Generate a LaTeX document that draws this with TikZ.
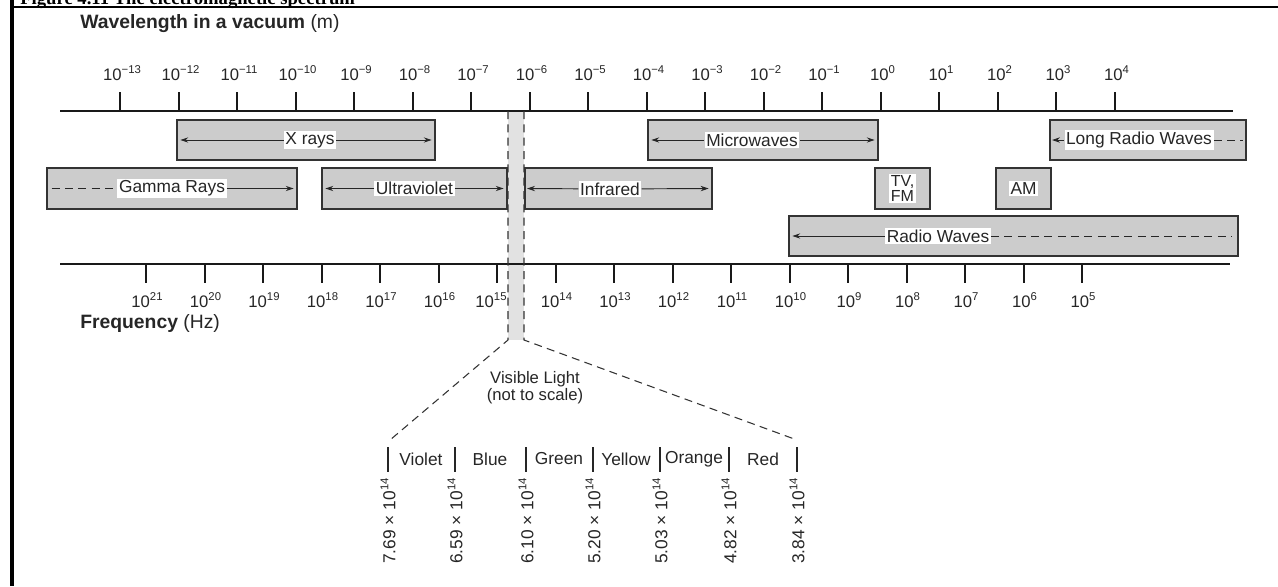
\documentclass[tikz,border=0pt]{standalone}
\usepackage{fontspec}
\setmainfont{Liberation Sans}
\newfontfamily\capfont{Liberation Serif}
\usetikzlibrary{fit,arrows.meta}
\newcommand\pw[1]{\raisebox{0.75ex}{\fontsize{8.5}{8.5}\selectfont#1}}

\begin{document}
\begin{tikzpicture}[x=0.75pt,y=-0.75pt,
  band/.style={draw=black!80, fill=black!20, line width=1pt, inner sep=0pt},
  lab/.style={fill=white, inner sep=1.2pt, text=black!85, font=\fontsize{13}{14}\selectfont},
  tlab/.style={text=black!85, font=\fontsize{12.5}{13}\selectfont},
  arr/.style={-{Stealth[length=6pt,width=4pt]}, line width=0.7pt, black!85},
  tail/.style={dash pattern=on 6pt off 4pt, line width=0.7pt, black!85},
  funnel/.style={dash pattern=on 6pt off 4pt, line width=0.8pt, black!80},
  axis/.style={line width=1.9pt, black!90},
  tick/.style={line width=1.5pt, black!90}]
\useasboundingbox (0,0) rectangle (1278,586);
\clip (0,0) rectangle (1278,586);
\definecolor{stripGray}{HTML}{E2E2E2}
% frame and cut caption
\node[anchor=base west, inner sep=0pt, font=\capfont\bfseries\fontsize{14}{14}\selectfont] (caption) at (20,4) {Figure 4.11 The electromagnetic spectrum};
\draw[line width=3.5pt] (12,0) -- (12,586);
\draw[line width=2pt] (12,7) -- (1278,7);
% titles
\node[anchor=base west, inner sep=0pt, text=black!85, font=\fontsize{14.5}{15}\selectfont] (wavetitle) at (80,28) {\textbf{Wavelength in a vacuum} (m)};
\node[anchor=base west, inner sep=0pt, text=black!85, font=\fontsize{14.5}{15}\selectfont] (freqtitle) at (80,328) {\textbf{Frequency} (Hz)};
% visible strip
\fill[stripGray] (508,111) rectangle (524,340);
% wavelength axis
\draw[axis] (60,111) -- (1233,111);
\foreach \e [count=\i from 0] in {−13,−12,−11,−10,−9,−8,−7,−6,−5,−4,−3,−2,−1,0,1,2,3,4} {
  \draw[tick] (120+58.5*\i,92) -- (120+58.5*\i,111);
  \node[tlab, anchor=base] (w\i) at (122+58.5*\i,80) {10\pw{\e}};
}
% frequency axis
\draw[axis] (60,264) -- (1230,264);
\foreach \e/\dx [count=\i from 0] in {21/0,20/0,19/0,18/0,17/0,16/0,15/-7,14/0,13/0,12/0,11/0,10/0,9/0,8/0,7/0,6/0,5/0} {
  \draw[tick] (146+58.5*\i,264) -- (146+58.5*\i,283);
  \node[tlab, anchor=base] (f\i) at (147+58.5*\i+\dx,307) {10\pw{\e}};
}
% bands
\node[band, fit={(177,120) (435,160)}] (xray) {};
\node[band, fit={(648,120) (878,160)}] (micro) {};
\node[band, fit={(1050,120) (1246,160)}] (longradio) {};
\node[band, fit={(47,168) (297,209)}] (gamma) {};
\node[band, fit={(322,168) (507,209)}] (uv) {};
\node[band, fit={(525,168) (712,209)}] (ir) {};
\node[band, fit={(875,168) (930,209)}] (tvfm) {};
\node[band, fit={(996,168) (1051,209)}] (am) {};
\node[band, fit={(789,216) (1238,256)}] (radio) {};
\node[lab] (xraylab) at (310,140) {X rays};
\node[lab] (microlab) at (752,140) {Microwaves};
\node[lab] (longlab) at (1139,140) {Long Radio Waves};
\node[lab] (gammalab) at (gamma) {Gamma Rays};
\node[lab] (uvlab) at (uv) {Ultraviolet};
\node[lab] (irlab) at (610,189) {Infrared};
\node[lab, align=center, font=\fontsize{12}{11}\selectfont] (tvfmlab) at (tvfm) {TV,\\FM};
\node[lab] (amlab) at (am) {AM};
\node[lab] (radiolab) at (938,236) {Radio Waves};
\draw[arr] (xraylab) -- ([xshift=3pt]xray.west);
\draw[arr] (xraylab) -- ([xshift=-3pt]xray.east);
\draw[arr] (microlab) -- ([xshift=3pt]micro.west);
\draw[arr] (microlab) -- ([xshift=-3pt]micro.east);
\draw[arr] (longlab) -- ([xshift=2pt]longradio.west);
\draw[tail] (longlab.east) -- ([xshift=-3pt]longradio.east);
\draw[tail] ([xshift=4pt]gamma.west) -- (gammalab.west);
\draw[arr] (gammalab) -- ([xshift=-3pt]gamma.east);
\draw[arr] (uvlab) -- ([xshift=3pt]uv.west);
\draw[arr] (uvlab) -- ([xshift=-3pt]uv.east);
\draw[arr] (irlab) -- ([xshift=2pt]ir.west);
\draw[arr] (irlab) -- ([xshift=-3pt]ir.east);
\draw[arr] (radiolab) -- ([xshift=3pt]radio.west);
\draw[tail] (radiolab.east) -- ([xshift=-5pt]radio.east);
% visible light funnel
\coordinate (stripL) at (508,340);
\coordinate (stripR) at (524,340);
\coordinate (fanL) at (390,440);
\coordinate (fanR) at (797,440);
\draw[funnel] (508,111) -- (stripL) -- (fanL);
\draw[funnel] (524,111) -- (stripR) -- (fanR);
\node[align=center, text=black!85, font=\fontsize{12.5}{12.5}\selectfont] (vislab) at (535,388) {Visible Light\\(not to scale)};
\foreach \x/\val in {388/7.69,455/6.59,526/6.10,593/5.20,660/5.03,729/4.82,797/3.84} {
  \draw[line width=1pt, black!85] (\x,447) -- (\x,472);
  \node[tlab, rotate=90, anchor=east, inner sep=0pt, font=\fontsize{13}{13}\selectfont] (n\x) at (\x,478) {\val\ × 10\pw{14}};
}
\foreach \x/\col in {421/Violet,490/Blue,559/Green,626/Yellow,694/Orange,763/Red}
  \node[tlab, font=\fontsize{13}{13}\selectfont] (c\x) at (\x,459) {\col};
\end{tikzpicture}
\end{document}
